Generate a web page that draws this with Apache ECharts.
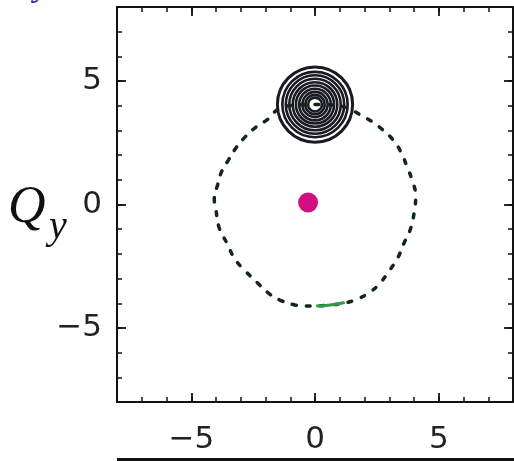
<!DOCTYPE html>
<html>
<head>
<meta charset="utf-8">
<script src="https://cdn.jsdelivr.net/npm/echarts@6/dist/echarts.min.js"></script>
<style>
  html, body { margin: 0; padding: 0; background: #fff; }
  #chart { width: 514px; height: 461px; }
</style>
</head>
<body>
<div id="chart"></div>
<script>
// axis range and labelled ticks
const axisMin = -8;
const axisMax = 8;
const majorTicks = [-5, 0, 5];

// dashed orbit (clockwise from the top)
const orbitX = [0, 0.7, 1.34, 1.83, 2.30, 2.71, 3.16, 3.48, 3.73, 3.93, 4.07, 4.02, 3.86, 3.59, 3.35, 3.02, 2.64, 2.24, 1.69, 1.15, 0.61, 0,
                -0.41, -0.81, -1.42, -1.87, -2.33, -2.82, -3.25, -3.55, -3.86, -4.00, -4.07, -3.93, -3.77, -3.50, -3.18, -2.82, -2.37, -1.90, -1.46, -0.7, 0];
const orbitY = [4.05, 4.03, 3.90, 3.63, 3.36, 3.05, 2.61, 2.11, 1.50, 0.97, 0.36, -0.24, -0.98, -1.58, -2.15, -2.66, -3.17, -3.54, -3.84, -4.00, -4.07, -4.11,
                -4.11, -4.07, -3.87, -3.60, -3.17, -2.69, -2.19, -1.58, -0.98, -0.24, 0.23, 0.81, 1.34, 1.80, 2.31, 2.74, 3.15, 3.46, 3.88, 4.03, 4.05];

// green stretch of the orbit near the bottom
const greenX = [0.05, 0.61, 1.2];
const greenY = [-4.11, -4.07, -3.97];

// concentric rings around the upper point
const ringCenter = [0, 4.05];
const ringRadii = [1.52, 1.32, 1.18, 1.04, 0.90, 0.77, 0.64, 0.51, 0.39, 0.28];

// central point
const dotX = [-0.28];
const dotY = [0.08];

const chart = echarts.init(document.getElementById('chart'));

function fmt(v) {
    return v < 0 ? '\u2212' + Math.abs(v) : String(v);
}

function makeAxis(pos, withLabels, major) {
    return {
        type: 'value',
        position: pos,
        min: axisMin,
        max: axisMax,
        interval: 1,
        axisLine: { show: !major, onZero: false, lineStyle: { color: '#111', width: 2 } },
        axisTick: major
            ? { show: true, inside: true, length: 9, customValues: majorTicks, lineStyle: { color: '#111', width: 1.8 } }
            : { show: true, inside: true, length: 5, lineStyle: { color: '#111', width: 1.5 } },
        axisLabel: withLabels
            ? { show: true, customValues: majorTicks, formatter: fmt, color: '#222',
                fontFamily: 'DejaVu Sans', fontSize: 31,
                margin: (pos === 'bottom') ? 22 : 15 }
            : { show: false },
        splitLine: { show: false }
    };
}

const ringData = ringRadii.map(r => [ringCenter[0], ringCenter[1], r]);

const option = {
    backgroundColor: '#fff',
    animation: false,
    grid: { left: 117, right: 1, top: 7, bottom: 59, outerBoundsMode: 'none' },
    xAxis: [
        makeAxis('bottom', true, false),
        makeAxis('top', false, false),
        makeAxis('bottom', false, true),
        makeAxis('top', false, true)
    ],
    yAxis: [
        makeAxis('left', true, false),
        makeAxis('right', false, false),
        makeAxis('left', false, true),
        makeAxis('right', false, true)
    ],
    graphic: [
        { type: 'text', left: 8, top: 182,
          style: { text: 'Q', font: 'italic 52px "Liberation Serif"', fill: '#111' } },
        { type: 'text', left: 49, top: 207,
          style: { text: 'y', font: 'italic 40px "Liberation Serif"', fill: '#111' } },
        { type: 'text', left: 34, top: -32,
          style: { text: 'y', font: 'italic 36px "Liberation Serif"', fill: '#2a2ad0' } },
        { type: 'rect', left: 117, top: 458,
          shape: { width: 397, height: 3 }, style: { fill: '#111' } }
    ],
    series: [
        {
            type: 'custom',
            xAxisIndex: 0,
            yAxisIndex: 0,
            data: ringData,
            z: 2,
            renderItem: function (params, api) {
                const c = api.coord([api.value(0), api.value(1)]);
                const r = api.size([api.value(2), 0])[0];
                return {
                    type: 'circle',
                    shape: { cx: c[0], cy: c[1], r: r },
                    style: { fill: 'none', stroke: '#1a1a22', lineWidth: params.dataIndex === 0 ? 3 : 2.6 }
                };
            }
        },
        {
            type: 'line',
            xAxisIndex: 0,
            yAxisIndex: 0,
            data: orbitX.map((x, i) => [x, orbitY[i]]),
            smooth: 0.4,
            symbol: 'none',
            z: 3,
            lineStyle: { color: '#13261a', width: 3.5, type: [4, 10], cap: 'round' }
        },
        {
            type: 'line',
            xAxisIndex: 0,
            yAxisIndex: 0,
            data: greenX.map((x, i) => [x, greenY[i]]),
            smooth: true,
            symbol: 'none',
            z: 4,
            lineStyle: { color: '#2f9a45', width: 3 }
        },
        {
            type: 'scatter',
            xAxisIndex: 0,
            yAxisIndex: 0,
            data: dotX.map((x, i) => [x, dotY[i]]),
            symbolSize: 20,
            z: 5,
            itemStyle: { color: '#d10f80', opacity: 1 }
        }
    ]
};

chart.setOption(option);
</script>
</body>
</html>
